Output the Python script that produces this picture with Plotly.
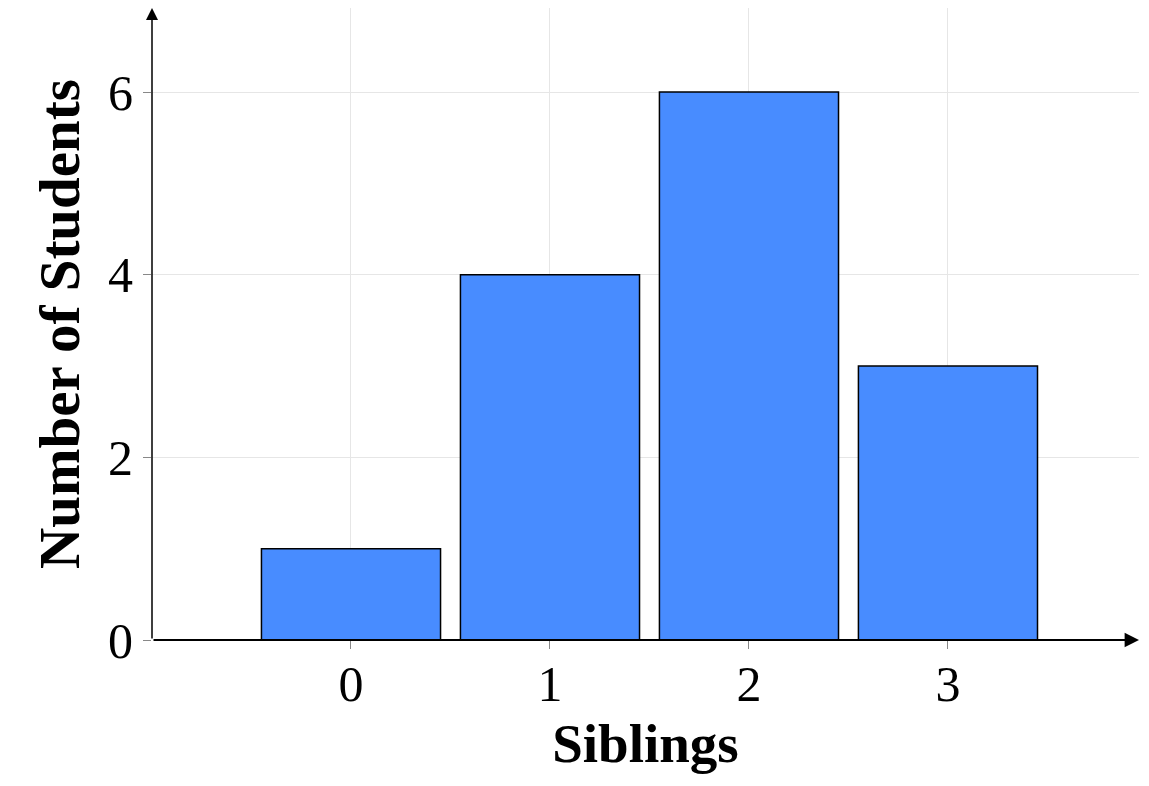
import plotly.graph_objects as go

siblings = [0, 1, 2, 3]
students = [1, 4, 6, 3]
y_ticks = [0, 2, 4, 6]

FONT = "Liberation Serif"

fig = go.Figure()
fig.add_trace(go.Bar(
    x=siblings, y=students, width=0.9,
    marker=dict(color="#488cff", line=dict(color="black", width=1.5)),
))

X_MAX = 3.96
Y_MAX = 6.92
fig.add_annotation(x=X_MAX, y=0, ax=-1, ay=0, xref="x", yref="y", axref="x", ayref="y",
                   showarrow=True, arrowhead=2, arrowsize=1.6, arrowwidth=1.8, arrowcolor="black", text="")
fig.add_annotation(x=-1, y=Y_MAX, ax=-1, ay=0, xref="x", yref="y", axref="x", ayref="y",
                   showarrow=True, arrowhead=2, arrowsize=1.6, arrowwidth=1.5, arrowcolor="black", text="")

fig.update_layout(
    width=1133, height=770,
    margin=dict(l=144, r=2, t=0, b=138),
    plot_bgcolor="white", paper_bgcolor="white",
    showlegend=False,
    font=dict(family=FONT, color="black", size=50),
    xaxis=dict(
        range=[-1, X_MAX], tickvals=siblings, ticktext=[str(s) for s in siblings],
        showgrid=True, gridcolor="#e6e6e6", gridwidth=1, zeroline=False, showline=False,
        ticks="outside", ticklen=8, tickcolor="#888888", tickwidth=1.2,
        ticklabelstandoff=-8,
        tickfont=dict(family=FONT, size=50),
        title=dict(text="<b>Siblings</b>", font=dict(family=FONT, size=55), standoff=12),
    ),
    yaxis=dict(
        range=[0, Y_MAX], tickvals=y_ticks, ticktext=[str(v) for v in y_ticks],
        showgrid=True, gridcolor="#e6e6e6", gridwidth=1, zeroline=False, showline=False,
        ticks="outside", ticklen=8, tickcolor="#888888", tickwidth=1.2,
        tickfont=dict(family=FONT, size=50),
        title=dict(text="<b>Number of Students</b>", font=dict(family=FONT, size=57), standoff=10),
    ),
)

fig.write_html("out.html")
